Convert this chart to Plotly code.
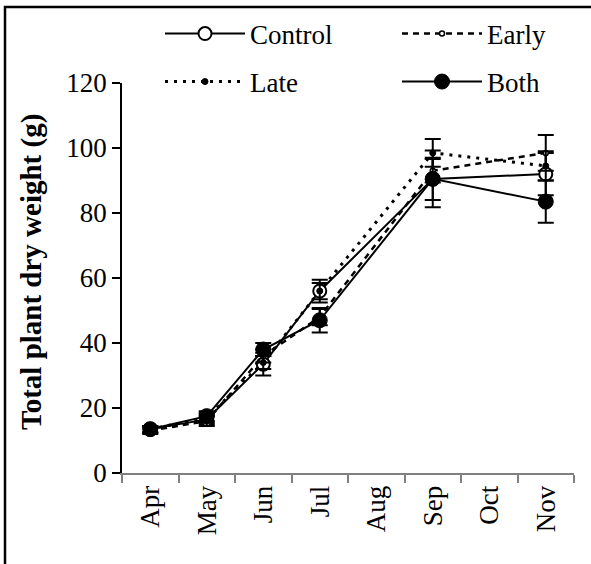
import plotly.graph_objects as go

months = ["Apr", "May", "Jun", "Jul", "Aug", "Sep", "Oct", "Nov"]
x_obs = ["Apr", "May", "Jun", "Jul", "Sep", "Nov"]

control = [13.5, 16.5, 33.5, 56.0, 90.5, 92.0]
control_err = [1.0, 1.5, 3.5, 3.5, 6.5, 6.5]
early = [13.0, 16.0, 36.0, 48.0, 93.0, 98.5]
early_err = [1.0, 1.5, 2.0, 2.5, 3.6, 5.5]
late = [13.5, 17.0, 34.0, 56.0, 98.5, 94.5]
late_err = [1.0, 1.5, 2.0, 2.5, 4.3, 4.5]
both = [13.5, 17.5, 38.0, 47.0, 90.5, 83.5]
both_err = [1.0, 1.5, 2.0, 3.8, 8.7, 6.5]

FONT = "Liberation Serif, Times New Roman, serif"

L, R, T, B = 122, 17, 83, 91
W, H = 591, 564
pw, ph = W - L - R, H - T - B

def px_x(p):
    return (p - L) / pw

def px_y(p):
    return (H - B - p) / ph

fig = go.Figure()

def add(name, y, err, dash, width, msize, mcolor, mline, legend):
    fig.add_trace(go.Scatter(
        x=x_obs, y=y, name=name, mode="lines+markers",
        line=dict(color="black", width=width, dash=dash),
        marker=dict(symbol="circle", size=msize, color=mcolor,
                    line=dict(color="black", width=mline)),
        error_y=dict(type="data", array=err, visible=True,
                     color="black", thickness=2, width=8),
        legend=legend,
    ))

add("Control", control, control_err, "solid", 2, 13, "white", 2, "legend")
add("Early", early, early_err, "6px,5px", 2.5, 5, "white", 1.5, "legend2")
add("Late", late, late_err, "3px,6px", 3, 6, "black", 1, "legend3")
add("Both", both, both_err, "solid", 2, 15, "black", 1, "legend4")

def leg(xp, yp):
    return dict(
        x=px_x(xp), y=px_y(yp), xanchor="left", yanchor="middle",
        orientation="h", itemwidth=80,
        font=dict(family=FONT, size=27, color="black"),
        bgcolor="rgba(0,0,0,0)", borderwidth=0,
        itemclick=False, itemdoubleclick=False,
    )

fig.update_layout(
    width=W, height=H, autosize=False,
    margin=dict(l=L, r=R, t=T, b=B, autoexpand=False),
    paper_bgcolor="white", plot_bgcolor="white",
    font=dict(family=FONT, size=27, color="black"),
    showlegend=True,
    legend=leg(160, 34),
    legend2=leg(397, 34),
    legend3=leg(160, 82),
    legend4=leg(397, 82),
    xaxis=dict(
        type="category", categoryorder="array", categoryarray=months,
        range=[-0.5, len(months) - 0.5], automargin=False,
        showline=True, linecolor="#808080", linewidth=2,
        ticks="outside", tickson="boundaries", ticklen=8,
        tickcolor="#808080", tickwidth=1.5,
        tickangle=-90, showgrid=False, zeroline=False,
        tickfont=dict(family=FONT, size=27, color="black"),
    ),
    yaxis=dict(
        range=[0, 120], dtick=20, tick0=0, automargin=False,
        showline=True, linecolor="black", linewidth=1.5,
        ticks="outside", ticklen=8, tickcolor="black", tickwidth=1.5,
        showgrid=False, zeroline=False,
        tickfont=dict(family=FONT, size=27, color="black"),
    ),
    shapes=[dict(
        type="rect", xref="paper", yref="paper",
        x0=px_x(5), x1=px_x(600), y0=px_y(570), y1=px_y(7),
        line=dict(color="black", width=2.5), fillcolor="rgba(0,0,0,0)",
        layer="below",
    )],
    annotations=[dict(
        text="<b>Total plant dry weight (g)</b>", textangle=-90,
        xref="paper", yref="paper", x=px_x(31), y=px_y(272),
        xanchor="center", yanchor="middle", showarrow=False,
        font=dict(family=FONT, size=29, color="black"),
    )],
)

fig.write_html(
    "out.html",
    config={"displayModeBar": False},
    post_script="document.body.style.margin='0px';document.body.style.overflow='hidden';",
)
